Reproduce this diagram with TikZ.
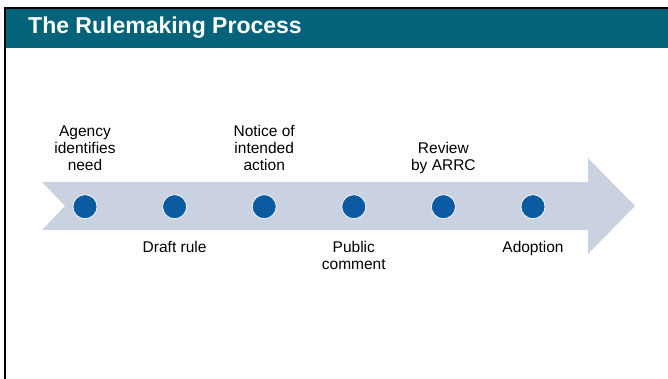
\documentclass[tikz,border=0pt]{standalone}
\usepackage{fontspec}
\setmainfont{Liberation Sans}
\usetikzlibrary{positioning}
\definecolor{bandteal}{HTML}{04637A}
\definecolor{arrowgrey}{HTML}{CAD2E2}
\definecolor{dotblue}{HTML}{0A5BA2}
\tikzstyle{dot} = [circle, fill=dotblue, draw=white, line width=0.7pt,
    minimum size=24pt, inner sep=0pt]
\tikzstyle{stage} = [align=center, inner sep=0pt, text depth=3pt,
    font=\fontsize{15.5}{17}\selectfont]

\begin{document}
\begin{tikzpicture}[x=1pt, y=1pt, node distance = 89.6pt]
  \useasboundingbox (0,0) rectangle (668,379);
   % Frame and title band
    \fill [bandteal] (6.2,370) rectangle (668,331);
    \draw [black, line width=2.3pt] (5,0) -- (5,371) -- (668,371);
    \node [anchor=base west, inner sep=0pt, text=white,
      font=\bfseries\fontsize{23}{27}\selectfont] (title) at (28,345.5) {The Rulemaking Process};
   % Timeline arrow
    \fill [arrowgrey] (42,197) -- (588,197) -- (588,221) -- (635,173) -- (588,125)
      -- (588,149) -- (42,149) -- (65,173) -- cycle;
   % Place nodes
    \node [dot] (agency) at (85,172.3) {};
    \node [dot, right of=agency] (draft) {};
    \node [dot, right of=draft] (notice) {};
    \node [dot, right of=notice] (comment) {};
    \node [dot, right of=comment] (review) {};
    \node [dot, right of=review] (adopt) {};
   % Labels
    \node [stage, above=21pt of agency] {Agency\\identifies\\need};
    \node [stage, below=22pt of draft] {Draft rule};
    \node [stage, above=21pt of notice] {Notice of\\intended\\action};
    \node [stage, below=22pt of comment] {Public\\comment};
    \node [stage, above=21pt of review] {Review\\by ARRC};
    \node [stage, below=22pt of adopt] {Adoption};
  \end{tikzpicture}
\end{document}
